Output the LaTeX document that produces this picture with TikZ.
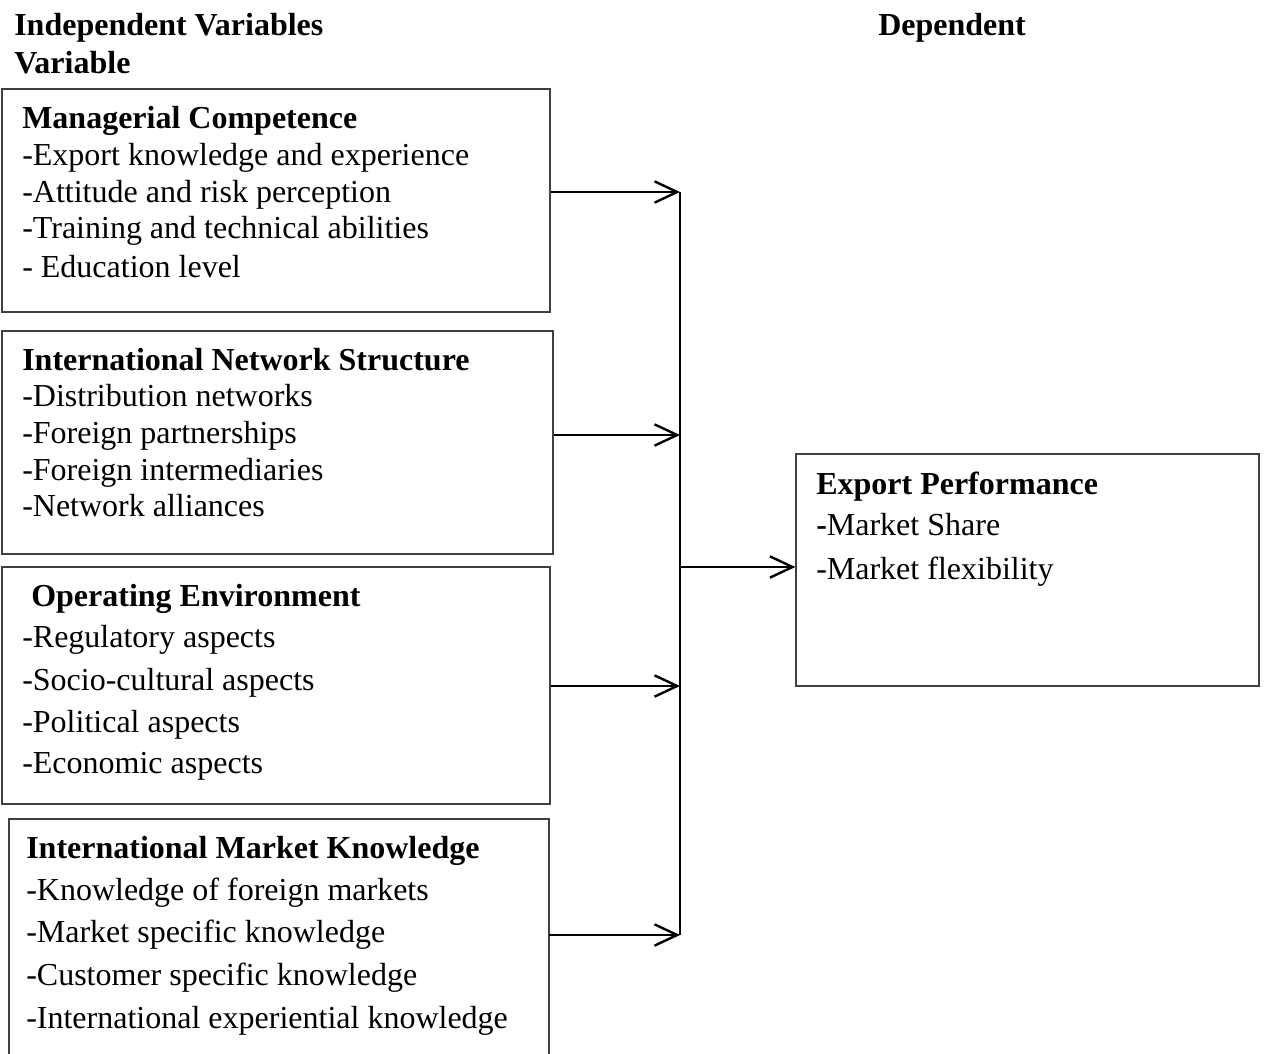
\documentclass[tikz,border=0pt]{standalone}
\usepackage{fontspec}
\setmainfont{Liberation Serif}
\usetikzlibrary{arrows.meta,fit}

\begin{document}
\begin{tikzpicture}[x=0.75pt,y=-0.75pt,
  box/.style={draw=black!75,line width=0.9pt,inner sep=0pt},
  head/.style={anchor=base west,inner sep=0pt,font=\fontsize{24pt}{28pt}\selectfont\bfseries},
  item/.style={anchor=base west,inner sep=0pt,font=\fontsize{24pt}{28pt}\selectfont},
  link/.style={line width=2pt,-{Straight Barb[length=17pt,width=16pt,line width=1.8pt]}},
  bus/.style={line width=1.6pt}]
\useasboundingbox (0,0) rectangle (1267,1053);

% column headings
\node[head] (hind) at (14,36) {Independent Variables};
\node[head] (hvar) at (14,73) {Variable};
\node[head] (hdep) at (878,36) {Dependent};

% boxes
\node[box,fit={(2,89)(550,312)}] (mc) {};
\node[box,fit={(2,331)(553,554)}] (ins) {};
\node[box,fit={(2,567)(550,804)}] (oe) {};
\node[box,fit={(796,454)(1259,686)}] (ep) {};
% last box runs off the bottom edge
\coordinate (imk-nw) at (9,819);
\coordinate (imk-ne) at (549,819);
\draw[draw=black!75,line width=0.9pt] (9,1060) -- (imk-nw) -- (imk-ne) -- (549,1060);

% Managerial Competence
\node[head] (mc-h) at (22,128) {Managerial Competence};
\node[item] (mc-1) at (22,165) {-Export knowledge and experience};
\node[item] (mc-2) at (22,202) {-Attitude and risk perception};
\node[item] (mc-3) at (22,238) {-Training and technical abilities};
\node[item] (mc-4) at (22,277) {- Education level};

% International Network Structure
\node[head] (ins-h) at (22,370) {International Network Structure};
\node[item] (ins-1) at (22,406) {-Distribution networks};
\node[item] (ins-2) at (22,443) {-Foreign partnerships};
\node[item] (ins-3) at (22,480) {-Foreign intermediaries};
\node[item] (ins-4) at (22,516) {-Network alliances};

% Operating Environment
\node[head] (oe-h) at (31,606) {Operating Environment};
\node[item] (oe-1) at (22,647) {-Regulatory aspects};
\node[item] (oe-2) at (22,690) {-Socio-cultural aspects};
\node[item] (oe-3) at (22,732) {-Political aspects};
\node[item] (oe-4) at (22,773) {-Economic aspects};

% International Market Knowledge
\node[head] (imk-h) at (26,858) {International Market Knowledge};
\node[item] (imk-1) at (26,900) {-Knowledge of foreign markets};
\node[item] (imk-2) at (26,942) {-Market specific knowledge};
\node[item] (imk-3) at (26,985) {-Customer specific knowledge};
\node[item] (imk-4) at (26,1028) {-International experiential knowledge};

% Export Performance
\node[head] (ep-h) at (816,494) {Export Performance};
\node[item] (ep-1) at (816,535) {\textbf{-}Market Share};
\node[item] (ep-2) at (816,579) {-Market flexibility};

% collecting line
\coordinate (j1) at (680,192);
\coordinate (j2) at (680,435);
\coordinate (j3) at (680,686);
\coordinate (j4) at (680,935);
\coordinate (jo) at (680,567);
\draw[bus] (j1) -- (j4);

% arrows into the collecting line
\draw[link] (mc.east |- j1) -- (j1);
\draw[link] (ins.east |- j2) -- (j2);
\draw[link] (oe.east |- j3) -- (j3);
\draw[link] (imk-ne |- j4) -- (j4);

% arrow to the dependent variable
\draw[link] (jo) -- (ep.west |- jo);
\end{tikzpicture}
\end{document}
